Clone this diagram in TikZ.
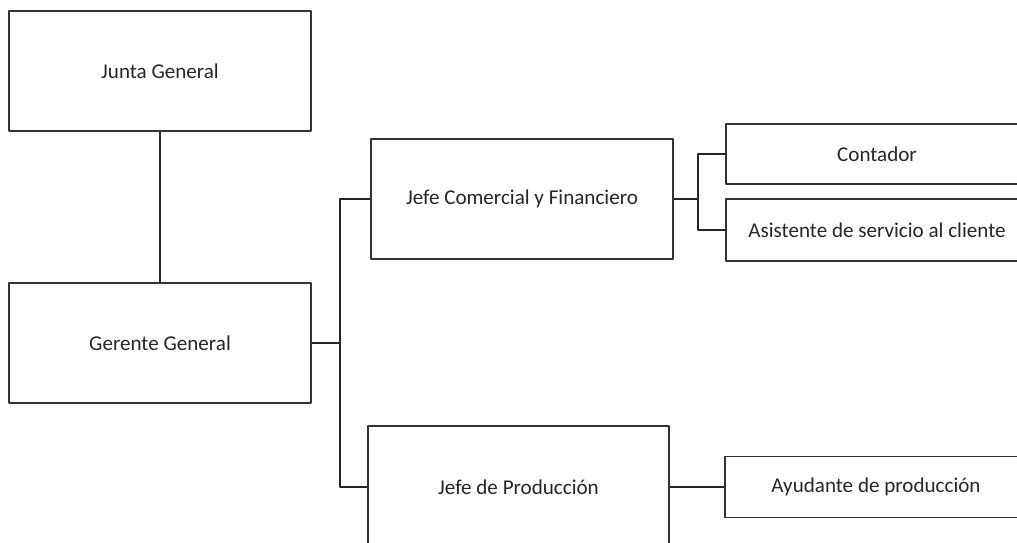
\documentclass[tikz,border=0pt]{standalone}
\usepackage{fontspec}
\setmainfont{Carlito}
\begin{document}
\begin{tikzpicture}[x=0.02cm, y=-0.02cm, font=\fontsize{12}{14}\selectfont, line join=round]
	\tikzset{
		cargo/.style={draw=black!80, line width=0.7pt, minimum width=6.04cm, minimum height=2.4cm, inner sep=0pt, text=black!85},
		auxiliar/.style={cargo, minimum height=1.22cm},
		enlace/.style={draw=black!85, line width=0.9pt}
	}
	\clip (0,0) rectangle (1017,542);
	\node[cargo] (junta) at (160,71) {Junta General};
	\node[cargo] (gerente) at (160,343) {Gerente General};
	\node[cargo] (comercial) at (522,199) {Jefe Comercial y Financiero};
	\node[cargo, minimum width=6.02cm, minimum height=2.44cm] (produccion) at (518.5,487) {Jefe de Producción};
	\node[auxiliar, minimum height=1.2cm] (contador) at (877,154) {Contador};
	\node[auxiliar, minimum height=1.24cm] (asistente) at (877,230) {Asistente de servicio al cliente};
	\node[auxiliar] (ayudante) at (876,487) {Ayudante de producción};

	\coordinate (busG) at (340,343);
	\coordinate (busC) at (698,199);

	\draw[enlace] (junta.south)--(gerente.north);
	\draw[enlace] (gerente.east)--(busG) |- (comercial.west);
	\draw[enlace] (busG) |- (produccion.west);
	\draw[enlace] (comercial.east)--(busC) |- (contador.west);
	\draw[enlace] (busC) |- (asistente.west);
	\draw[enlace] (produccion.east)--(ayudante.west);
\end{tikzpicture}
\end{document}
